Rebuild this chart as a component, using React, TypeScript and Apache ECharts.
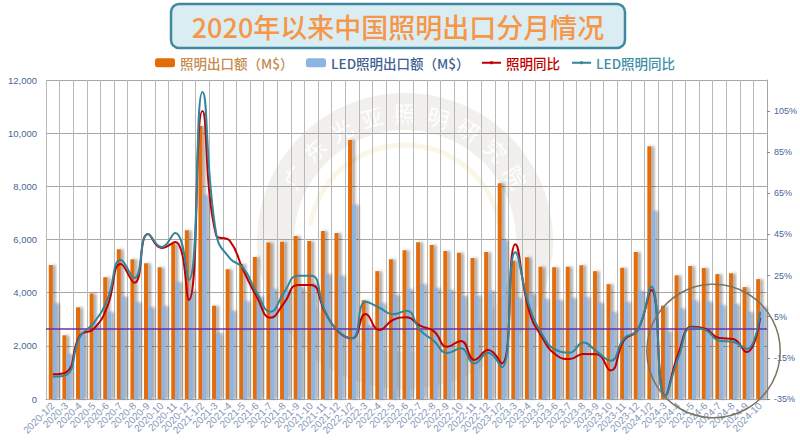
import React, { useEffect, useRef } from "react";
import * as echarts from "echarts";

const months = (y: number, last = 12) => {
  const out = [`${y}-1/2`];
  for (let m = 3; m <= last; m++) out.push(`${y}-${m}`);
  return out;
};
const categories = [...months(2020), ...months(2021), ...months(2022), ...months(2023), ...months(2024, 10)];

const lightingExport = [
  5040, 2400, 3450, 3970, 4580, 5630, 5260, 5110, 4960, 5850, 6350,
  10270, 3510, 4880, 5080, 5340, 5890, 5915, 6130, 5940, 6320, 6240,
  9740, 3720, 4810, 5260, 5600, 5900, 5790, 5565, 5500, 5300, 5530,
  8120, 5200, 5330, 4975, 4960, 4975, 5030, 4810, 4320, 4940, 5530,
  9510, 3510, 4650, 5000, 4930, 4700, 4730, 4210, 4510,
];
const ledExport = [
  3600, 1690, 2500, 2800, 3270, 3850, 3640, 3450, 3500, 4400, 4100,
  7670, 2480, 3320, 3680, 3850, 4130, 4100, 4200, 4350, 4700, 4640,
  7310, 2780, 3600, 3910, 4130, 4320, 4170, 4100, 3880, 3880, 4060,
  5980, 3800, 3950, 3760, 3720, 3800, 3830, 3620, 3270, 3650, 4060,
  7070, 2560, 3400, 3700, 3660, 3530, 3570, 3270, 3470,
];
const lightingYoY = [
  -23, -21.9, -4.2, -1, 9.8, 30.6, 21.5, 45.2, 38.4, 41.3, 13.1,
  104.9, 44.7, 41.9, 27.7, 14.6, 4.5, 11.6, 20.4, 20.4, 7.4, -2.3,
  -5.5, 6.3, -1.5, 3.4, 4.7, 0.6, -2, -9.6, -6.8, -16, -11.2,
  -17.7, 40.2, 8.2, -5.4, -13.6, -15.6, -13.1, -13.3, -21.1, -6.3, -1.5,
  18, -33.5, -12.6, 0.1, -1, -5.4, -5.8, -12.2, 4.4,
];
const ledYoY = [
  -24.2, -23.3, -4.7, 1.9, 13.1, 32.5, 23.8, 45.2, 38.9, 45.7, 22.8,
  114.2, 45.7, 33.5, 28.7, 16.5, 7.4, 16.7, 24.9, 24.9, 7.9, -2,
  -5.5, 12.3, 9.4, 6.2, 7.9, -1.5, -6.7, -12.6, -10.4, -17.7, -12.5,
  -19.6, 36.3, 10.7, -3.9, -11.2, -12.5, -7.6, -12, -16.4, -5.5, -1.5,
  19.6, -33.5, -14.6, -0.2, -1.5, -6.7, -7.2, -10.7, 7.4,
];
const rightTicks = [-35, -15, 5, 25, 45, 65, 85, 105];
const purpleLevel = 2640;
const title = "2020年以来中国照明出口分月情况";
const stampChars = ["广", "东", "光", "亚", "照", "明", "研", "究", "院"];
const names = ["照明出口额（M$）", "LED照明出口额（M$）", "照明同比", "LED照明同比"];

const font = '"Noto Sans CJK SC", "Liberation Sans", sans-serif';

const barShadow = { shadowColor: "rgba(0,0,0,0.35)", shadowBlur: 3, shadowOffsetX: 3, shadowOffsetY: 0 };

const barLegend = { top: 56, padding: 0, itemWidth: 20, itemHeight: 9 };
const lineLegend = { top: 56, padding: 0, itemWidth: 19, itemHeight: 4 };
const legendText = { fontSize: 13.5, fontWeight: 500, fontFamily: font };

export default function App() {
  const ref = useRef<HTMLDivElement>(null);
  useEffect(() => {
    const chart = echarts.init(ref.current!, undefined, { renderer: "svg", width: 800, height: 443 });
    const cx = 405;
    const cy = 241;
    const stamp: any[] = stampChars.map((c, i) => {
      const a = ((i - 4) * 15 * Math.PI) / 180;
      return {
        type: "text",
        x: cx + 129 * Math.sin(a),
        y: cy - 129 * Math.cos(a),
        rotation: -a,
        z: -1,
        silent: true,
        style: { text: c, fill: "#ffffff", font: `22px ${font}`, textAlign: "center", textVerticalAlign: "middle" },
      };
    });
    chart.setOption({
      animation: false,
      backgroundColor: "#ffffff",
      grid: { left: 46, right: 31, top: 80, bottom: 44 },
      legend: [
        { ...barLegend, data: [names[0]], left: 155, textStyle: { ...legendText, color: "#c58a4e" } },
        { ...barLegend, data: [names[1]], left: 306, textStyle: { ...legendText, color: "#3f5f92" } },
        { ...lineLegend, data: [names[2]], left: 481, textStyle: { ...legendText, color: "#c00000" } },
        { ...lineLegend, data: [names[3]], left: 571, textStyle: { ...legendText, color: "#3f8fa6" } },
      ],
      xAxis: {
        type: "category",
        data: categories,
        boundaryGap: true,
        axisTick: { show: false },
        axisLine: { lineStyle: { color: "#b0b0b0" } },
        axisLabel: { interval: 0, rotate: 45, fontSize: 10, color: "#8497b8", margin: 5, fontFamily: "Liberation Sans" },
        splitLine: { show: true, interval: 0, lineStyle: { color: "#b8b8b8", width: 1 } },
      },
      yAxis: [
        {
          type: "value",
          min: 0,
          max: 12000,
          interval: 2000,
          axisLine: { show: false },
          axisTick: { show: false },
          axisLabel: {
            fontSize: 9.5,
            margin: 9,
            color: "#4a6596",
            fontFamily: "Liberation Sans",
            formatter: (v: number) => v.toLocaleString("en-US"),
          },
          splitLine: { lineStyle: { color: "#a6a6a6", width: 1 } },
        },
        {
          type: "value",
          position: "right",
          min: -35,
          max: 120,
          axisLine: { show: true, lineStyle: { color: "#a6a6a6" } },
          axisTick: { show: true, length: 3, customValues: rightTicks, lineStyle: { color: "#8a8a8a" } },
          axisLabel: {
            customValues: rightTicks,
            fontSize: 9,
            margin: 7,
            color: "#4a6596",
            fontFamily: "Liberation Sans",
            formatter: (v: number) => `${v}%`,
          },
          splitLine: { show: false },
        },
      ],
      series: [
        {
          name: names[0],
          type: "bar",
          data: lightingExport,
          barWidth: 4,
          barGap: "0%",
          itemStyle: { color: "#e36c09", ...barShadow },
          markLine: {
            silent: true,
            symbol: "none",
            label: { show: false },
            lineStyle: { color: "#7030a0", width: 1.5, type: "solid" },
            data: [{ yAxis: purpleLevel }],
          },
        },
        {
          name: names[1],
          type: "bar",
          data: ledExport,
          barWidth: 4,
          itemStyle: { color: "#8db4e2", ...barShadow },
        },
        {
          name: names[2],
          type: "line",
          yAxisIndex: 1,
          data: lightingYoY,
          smooth: 0.5,
          symbol: "circle",
          showSymbol: false,
          z: 5,
          itemStyle: { color: "#c00000" },
          lineStyle: { color: "#c00000", width: 2 },
        },
        {
          name: names[3],
          type: "line",
          yAxisIndex: 1,
          data: ledYoY,
          smooth: 0.5,
          symbol: "circle",
          showSymbol: false,
          z: 6,
          itemStyle: { color: "#31859c" },
          lineStyle: { color: "#31859c", width: 2 },
        },
      ],
      graphic: [
        {
          type: "ring",
          shape: { cx, cy, r: 148, r0: 111 },
          z: -2,
          silent: true,
          style: { fill: "#f1f0ed" },
        },
        {
          type: "arc",
          shape: { cx, cy, r: 96, startAngle: Math.PI * 1.05, endAngle: Math.PI * 1.95 },
          z: -2,
          silent: true,
          style: { stroke: "#faf6e8", lineWidth: 5, fill: "none" },
        },
        ...stamp,
        {
          type: "rect",
          shape: { x: 171, y: 4, width: 454, height: 44, r: 8 },
          z: 50,
          silent: true,
          style: { fill: "#daedf3", stroke: "#3f88a0", lineWidth: 2.5 },
        },
        {
          type: "text",
          x: 398,
          y: 26,
          z: 51,
          silent: true,
          style: {
            text: title,
            fill: "#f79646",
            font: `500 27px ${font}`,
            textAlign: "center",
            textVerticalAlign: "middle",
          },
        },
        {
          type: "circle",
          shape: { cx: 713.5, cy: 351, r: 66.7 },
          z: 60,
          silent: true,
          style: { fill: "none", stroke: "#7a7462", lineWidth: 1.5 },
        },
      ],
    });
    return () => chart.dispose();
  }, []);
  return <div ref={ref} style={{ position: "fixed", left: 0, top: 0, width: 800, height: 443 }} />;
}
